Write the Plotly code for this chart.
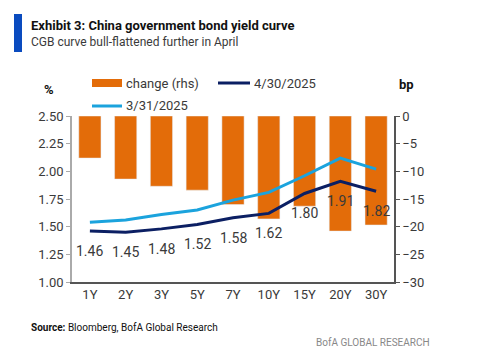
import plotly.graph_objects as go

tenors = ["1Y", "2Y", "3Y", "5Y", "7Y", "10Y", "15Y", "20Y", "30Y"]
yield_apr30 = [1.46, 1.45, 1.48, 1.52, 1.58, 1.62, 1.80, 1.91, 1.82]
yield_mar31 = [1.54, 1.56, 1.61, 1.65, 1.74, 1.81, 1.96, 2.12, 2.02]
change_bp = [-7.6, -11.4, -12.7, -13.4, -16.0, -18.6, -16.3, -20.8, -19.7]

left_ticks = [1.00, 1.25, 1.50, 1.75, 2.00, 2.25, 2.50]
right_ticks = [0, -5, -10, -15, -20, -25, -30]

ORANGE = "#E36C09"
NAVY = "#0B1F63"
LIGHT = "#1BA3DD"
FONT = "Roboto, sans-serif"
TXT = "#3a3a3a"

# plot area in pixels
L, R, T, B = 72, 394, 116, 282
PW, PH = R - L, B - T


def px(xpix):
    return (xpix - L) / PW


def py(ypix):
    return (B - ypix) / PH


fig = go.Figure()
fig.add_trace(go.Bar(x=tenors, y=change_bp, marker_color=ORANGE, yaxis="y",
                     showlegend=False, name="change (rhs)"))
fig.add_trace(go.Scatter(x=tenors, y=yield_apr30, mode="lines", name="4/30/2025",
                         line=dict(color=NAVY, width=3), yaxis="y2", showlegend=False))
fig.add_trace(go.Scatter(x=tenors, y=yield_mar31, mode="lines", name="3/31/2025",
                         line=dict(color=LIGHT, width=3), yaxis="y2", showlegend=False))

for t, v in zip(tenors, yield_apr30):
    fig.add_annotation(x=t, y=v, xref="x", yref="y2", text=f"{v:.2f}", showarrow=False,
                       yshift=-20, font=dict(size=14, color=TXT, family=FONT))

fig.update_layout(
    width=487, height=357,
    margin=dict(l=L, r=487 - R, t=T, b=357 - B, autoexpand=False),
    paper_bgcolor="white", plot_bgcolor="white",
    font=dict(family=FONT, color=TXT, size=13),
    bargap=0.38,
    showlegend=False,
    xaxis=dict(type="category", showline=True, linecolor="#555", linewidth=1.5,
               ticks="", tickfont=dict(size=13, color=TXT), showgrid=False),
    yaxis=dict(side="right", range=[-30, 0], tickvals=right_ticks,
               showline=True, linecolor="#555", linewidth=1.5, ticks="outside",
               ticklen=4, tickcolor="#555", showgrid=False, zeroline=False,
               tickfont=dict(size=13, color=TXT)),
    yaxis2=dict(side="left", overlaying="y", range=[1, 2.5], tickvals=left_ticks,
                tickformat=".2f", showline=True, linecolor="#aaa", linewidth=1.5,
                ticks="outside", ticklen=4, tickcolor="#aaa", showgrid=False,
                zeroline=False, tickfont=dict(size=13, color=TXT)),
)

# manual legend
legend_items = [
    (fig.data[0].name, ORANGE, 8, 92, 122, 83),
    (fig.data[1].name, NAVY, 3, 218, 250, 83),
    (fig.data[2].name, LIGHT, 3, 92, 122, 106),
]
for name, col, w, x0, x1, yy in legend_items:
    fig.add_shape(type="line", xref="paper", yref="paper",
                  x0=px(x0), x1=px(x1), y0=py(yy), y1=py(yy),
                  line=dict(color=col, width=w))
    fig.add_annotation(xref="paper", yref="paper", x=px(x1 + 2), y=py(yy),
                       xanchor="left", yanchor="middle", showarrow=False, text=name,
                       font=dict(size=13, color=TXT, family=FONT))

fig.add_shape(type="rect", xref="paper", yref="paper",
              x0=px(14), x1=px(22), y0=py(14), y1=py(52),
              fillcolor="#0A4BBF", line_width=0)
fig.add_annotation(xref="paper", yref="paper", x=px(29), y=py(26),
                   xanchor="left", yanchor="middle", showarrow=False,
                   text="<b>Exhibit 3: China government bond yield curve</b>",
                   font=dict(size=13, color="#111", family=FONT))
fig.add_annotation(xref="paper", yref="paper", x=px(29), y=py(42),
                   xanchor="left", yanchor="middle", showarrow=False,
                   text="CGB curve bull-flattened further in April",
                   font=dict(size=12, color=TXT, family=FONT))
fig.add_annotation(xref="paper", yref="paper", x=px(49), y=py(89),
                   xanchor="center", yanchor="middle", showarrow=False,
                   text="<b>%</b>", font=dict(size=13, color="#111", family=FONT))
fig.add_annotation(xref="paper", yref="paper", x=px(406), y=py(85),
                   xanchor="center", yanchor="middle", showarrow=False,
                   text="<b>bp</b>", font=dict(size=13, color="#111", family=FONT))
fig.add_annotation(xref="paper", yref="paper", x=px(29), y=py(327),
                   xanchor="left", yanchor="middle", showarrow=False,
                   text="<b>Source:</b> Bloomberg, BofA Global Research",
                   font=dict(size=10, color="#111", family=FONT))
fig.add_annotation(xref="paper", yref="paper", x=px(432), y=py(342),
                   xanchor="right", yanchor="middle", showarrow=False,
                   text="BofA GLOBAL RESEARCH",
                   font=dict(size=10, color="#888", family=FONT))

fig.write_html("out.html", config={"displayModeBar": False},
               post_script="document.body.style.margin='0';")
